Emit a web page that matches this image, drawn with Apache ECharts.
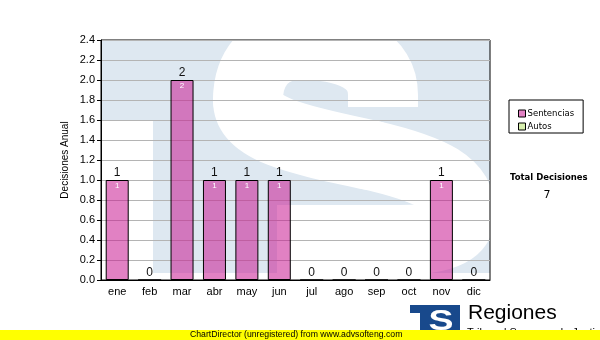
<!DOCTYPE html>
<html>
<head>
<meta charset="utf-8">
<script src="https://cdn.jsdelivr.net/npm/echarts@6/dist/echarts.min.js"></script>
<style>
  html, body { margin: 0; padding: 0; background: #fff; }
  #chart { width: 600px; height: 340px; }
</style>
</head>
<body>
<div id="chart"></div>
<script>
// datos por mes
var months = ['ene', 'feb', 'mar', 'abr', 'may', 'jun', 'jul', 'ago', 'sep', 'oct', 'nov', 'dic'];
var sentencias = [1, 0, 2, 1, 1, 1, 0, 0, 0, 0, 1, 0];
var autos = [0, 0, 0, 0, 0, 0, 0, 0, 0, 0, 0, 0];
var seriesNames = ['Sentencias', 'Autos'];
var yMin = 0, yMax = 2.4, yStep = 0.2;

var total = 0;
for (var i = 0; i < sentencias.length; i++) {
    total += sentencias[i] + autos[i];
}

// "S" de la marca de agua: trazo central en tramos [x1,y1, cx1,cy1, cx2,cy2, x2,y2, cap]
var sTramos = [
    [383, 107, 383, 103, 383, 99, 383, 95, 'butt'],
    [383, 95, 383, 60, 350, 45, 300, 45, 'butt'],
    [300, 45, 265, 45, 248, 70, 248, 100, 'round'],
    [248, 100, 248, 130, 300, 140, 370, 155, 'round'],
    [370, 155, 435, 170, 460, 185, 460, 212, 'round'],
    [460, 212, 460, 232, 440, 240, 400, 240, 'round'],
    [400, 240, 360, 240, 320, 240, 277, 240, 'butt']
];

var graphics = [
    { type: 'rect', z: -10, shape: { x: 153, y: 40, width: 337, height: 233 }, style: { fill: '#dee8f1' } },
    { type: 'rect', z: -10, shape: { x: 101, y: 40, width: 52, height: 80 }, style: { fill: '#dee8f1' } }
];
sTramos.forEach(function (t) {
    graphics.push({
        type: 'bezierCurve', z: -9,
        shape: { x1: t[0], y1: t[1], cpx1: t[2], cpy1: t[3], cpx2: t[4], cpy2: t[5], x2: t[6], y2: t[7] },
        style: { fill: null, stroke: '#fff', lineWidth: 70, lineCap: t[8] }
    });
});

var chart = echarts.init(document.getElementById('chart'));

var option = {
    animation: false,
    textStyle: { fontFamily: 'Liberation Sans, Arial, sans-serif' },
    grid: {
        left: 101, top: 40, right: 110, bottom: 60,
        show: true,
        borderColor: '#000',
        borderWidth: 1,
        backgroundColor: 'transparent'
    },
    legend: {
        orient: 'vertical',
        left: 509,
        top: 100,
        data: seriesNames,
        borderColor: '#000',
        borderWidth: 1,
        padding: [9, 9, 2, 9],
        itemWidth: 7,
        itemHeight: 7,
        itemGap: 4,
        icon: 'rect',
        itemStyle: { borderColor: '#000', borderWidth: 1 },
        textStyle: { fontFamily: 'DejaVu Sans', fontSize: 8.5, color: '#000', lineHeight: 7, padding: [0, 0, 0, -3] }
    },
    xAxis: {
        type: 'category',
        data: months,
        axisLine: { lineStyle: { color: '#000', width: 1 } },
        axisTick: { alignWithLabel: true, length: 4, lineStyle: { color: '#000' } },
        axisLabel: { color: '#000', fontSize: 11, margin: 6 }
    },
    yAxis: {
        type: 'value',
        min: yMin,
        max: yMax,
        interval: yStep,
        name: 'Decisiones Anual',
        nameLocation: 'middle',
        nameGap: 31,
        nameMoveOverlap: false,
        nameTextStyle: { color: '#000', fontSize: 10 },
        axisLine: { show: true, lineStyle: { color: '#000', width: 1 } },
        axisTick: { show: true, length: 4, lineStyle: { color: '#000' } },
        axisLabel: {
            color: '#000', fontSize: 11, margin: 6,
            formatter: function (v) { return v.toFixed(1); }
        },
        splitLine: { lineStyle: { color: '#b4b4b4', width: 1 } }
    },
    series: [
        {
            name: seriesNames[0],
            type: 'bar',
            stack: 'total',
            data: sentencias,
            barWidth: 23,
            itemStyle: { color: 'rgba(200, 25, 145, 0.55)', borderColor: '#000', borderWidth: 1 },
            label: {
                show: true,
                position: 'insideTop',
                distance: 2,
                color: '#fff',
                fontSize: 8,
                formatter: function (p) { return p.value ? String(p.value) : ''; }
            },
            z: 3
        },
        {
            name: seriesNames[1],
            type: 'bar',
            stack: 'total',
            data: autos,
            barWidth: 23,
            itemStyle: { color: 'rgba(190, 230, 120, 0.6)', borderWidth: 0 },
            label: {
                show: true,
                position: 'top',
                distance: 1,
                color: '#111',
                fontSize: 12,
                formatter: function (p) {
                    return String(sentencias[p.dataIndex] + autos[p.dataIndex]);
                }
            },
            z: 3
        }
    ],
    graphic: graphics.concat([
        {
            type: 'text', z: 5, left: 510, top: 173,
            style: { text: 'Total Decisiones', fill: '#000', font: 'bold 8.5px "DejaVu Sans", sans-serif' }
        },
        {
            type: 'text', z: 5, x: 547, y: 195,
            style: { text: String(total), fill: '#000', font: '11px "DejaVu Sans", sans-serif', textAlign: 'center', textVerticalAlign: 'middle' }
        },
        // logo inferior
        { type: 'rect', z: 5, shape: { x: 410, y: 305, width: 50, height: 25 }, style: { fill: '#18498c' } },
        { type: 'rect', z: 5, shape: { x: 410, y: 313, width: 10, height: 17 }, style: { fill: '#fff' } },
        {
            type: 'text', z: 6, x: 441, y: 322, scaleX: 1.25,
            style: { text: 'S', fill: '#fff', font: 'bold 30px "Liberation Sans", Arial, sans-serif', textAlign: 'center', textVerticalAlign: 'middle' }
        },
        {
            type: 'text', z: 5, left: 468, top: 303,
            style: { text: 'Regiones', fill: '#000', font: '21px "Liberation Sans", Arial, sans-serif' }
        },
        {
            type: 'text', z: 5, left: 467, top: 327,
            style: { text: 'Tribunal Supremo de Justicia', fill: '#000', font: '11px "Liberation Sans", Arial, sans-serif' }
        },
        { type: 'rect', z: 8, shape: { x: 0, y: 330, width: 600, height: 10 }, style: { fill: '#ffff00' } },
        {
            type: 'text', z: 9, left: 190, top: 330,
            style: { text: 'ChartDirector (unregistered) from www.advsofteng.com', fill: '#000', font: '8.7px "Liberation Sans", Arial, sans-serif' }
        }
    ])
};

chart.setOption(option);
</script>
</body>
</html>
